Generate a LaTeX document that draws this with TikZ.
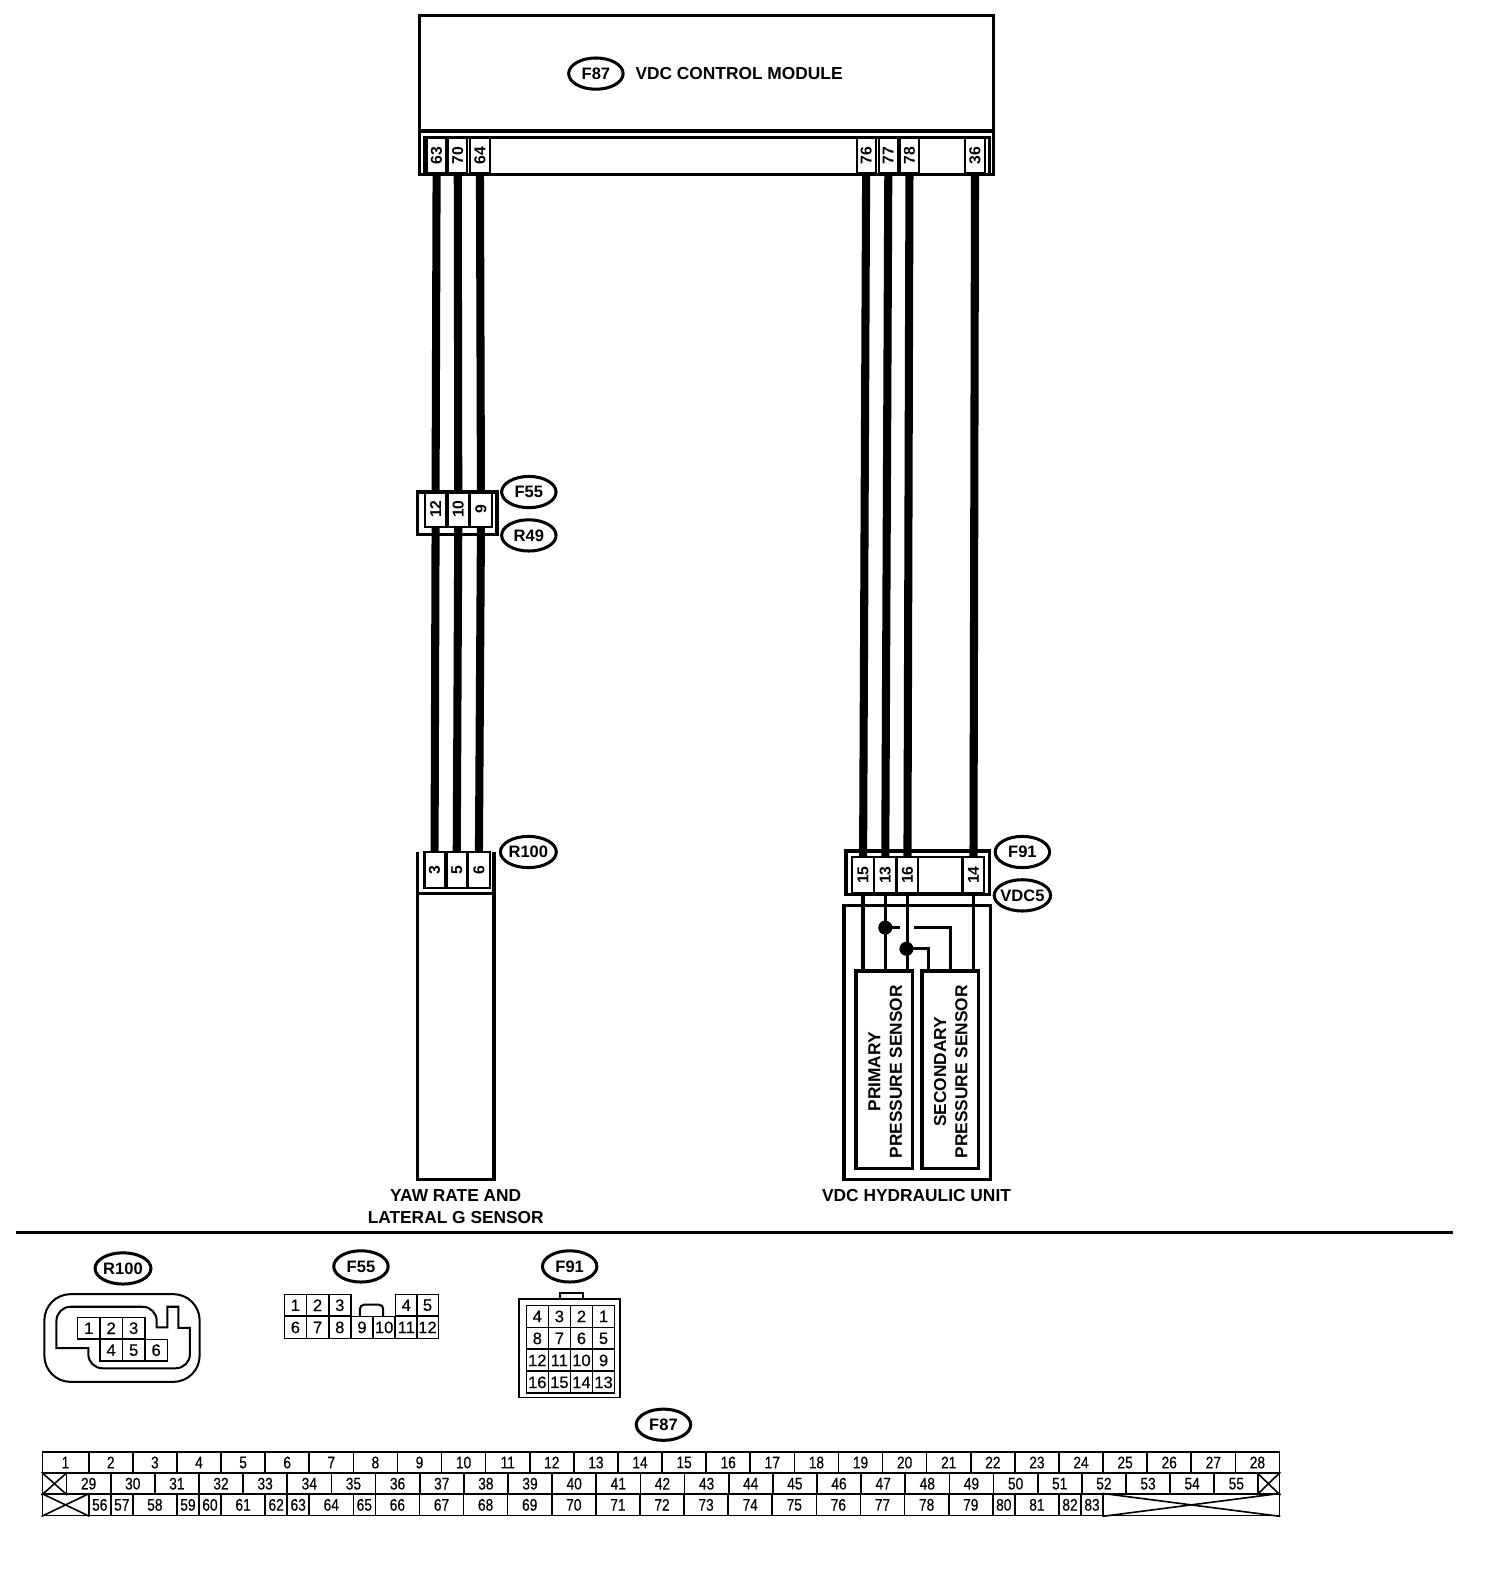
\documentclass[tikz,border=0pt]{standalone}
\usepackage{fontspec}
\usepackage{graphicx}
\setmainfont{Liberation Sans}
\newfontfamily\tblfont[FakeStretch=0.82,FakeBold=0.4]{Liberation Sans}
\newfontfamily\minifont[FakeBold=0.4]{Liberation Sans}
\usetikzlibrary{shapes.geometric,calc}
\newcommand\pinbox[6]{\node[pinbox,minimum width=#4*0.5pt,minimum height=#5*0.5pt] (#1) at (#2,#3) {\rotatebox{90}{#6}};}
\tikzset{
  frame/.style={draw=black,line width=1.6pt,fill=none},
  pinbox/.style={draw=black,line width=1pt,inner sep=0pt,font=\bfseries\fontsize{7.8}{9}\selectfont},
  wire/.style={draw=black,line width=4pt},
  thin wire/.style={draw=black,line width=1.6pt},
  tag/.style={draw=black,ellipse,line width=1.5pt,inner sep=0pt,minimum width=27pt,minimum height=15.5pt,font=\bfseries\fontsize{8.2}{9}\selectfont},
  title/.style={inner sep=0pt,font=\bfseries\fontsize{8.6}{11}\selectfont,align=center},
  senstxt/.style={inner sep=0pt,rotate=90,font=\bfseries\fontsize{8.6}{10.6}\selectfont,align=center},
  sensbox/.style={draw=black,line width=1.6pt,inner sep=0pt},
  dotnode/.style={circle,fill=black,inner sep=0pt,minimum size=7pt},
  cell/.style={draw=black,line width=0.8pt,inner sep=0pt,font=\tblfont\fontsize{8.3}{9}\selectfont},
  minicell/.style={draw=black,line width=0.8pt,inner sep=0pt,minimum width=10.9pt,minimum height=10.8pt,font=\minifont\fontsize{8.2}{9}\selectfont},
  outline/.style={draw=black,line width=1pt},
}
\begin{document}
\begin{tikzpicture}[x=0.5pt,y=-0.5pt]
\useasboundingbox (0,0) rectangle (1492,1569);
% control module
\node[frame,minimum width=284.5pt,minimum height=57.5pt,inner sep=0pt] (module) at (700.5,73) {};
\draw[frame] (416,130) rectangle (985,173);
\draw[frame] (421,136) rectangle (981,173);
\node[tag] (tF87) at (591,73) {F87};
\node[title] (tModule) at (733,73) {VDC CONTROL MODULE};
\pinbox{p63}{433}{154}{19}{35}{63}
\pinbox{p70}{454}{154}{19}{35}{70}
\pinbox{p64}{476}{154}{20}{35}{64}
\pinbox{p76}{859}{154}{19}{35}{76}
\pinbox{p77}{881}{154}{19}{35}{77}
\pinbox{p78}{902}{154}{19}{35}{78}
\pinbox{p36}{967}{154}{20}{35}{36}
% joint connector
\draw[frame] (414,488) rectangle (493,530);
\pinbox{f12}{432}{505}{21}{35}{12}
\pinbox{f10}{454.5}{505}{21}{35}{10}
\pinbox{f9}{477}{505}{21}{35}{9}
\node[tag] (tF55) at (524.5,488) {F55};
\node[tag] (tR49) at (524.5,531) {R49};
% yaw sensor
\draw[frame] (414,845) -- (414,1170) -- (490,1170) -- (490,845);
\draw[frame] (414,886) -- (490,886);
\pinbox{s3}{431}{863}{20}{36}{3}
\pinbox{s5}{453}{863}{20}{36}{5}
\pinbox{s6}{475}{863}{21}{36}{6}
\node[tag] (tR100) at (524,845) {R100};
\node[title] (tYaw) at (452,1196.5) {YAW RATE AND\\LATERAL G SENSOR};
% hydraulic unit
\draw[frame] (839,844) rectangle (981,887);
\pinbox{h15}{856}{868}{22}{36}{15}
\pinbox{h13}{878}{868}{22}{36}{13}
\pinbox{h16}{900}{868}{21}{36}{16}
\node[draw=black,line width=1pt,inner sep=0pt,minimum width=22pt,minimum height=18pt] (hblank) at (932.5,868) {};
\pinbox{h14}{965.5}{868}{21}{36}{14}
\node[tag] (tF91) at (1014,845) {F91};
\node[tag,minimum width=28pt] (tVDC5) at (1014,888) {\makebox[19.5pt]{VDC5}};
\draw[frame] (837,898) rectangle (982,1170);
\node[sensbox,minimum width=28pt,minimum height=98pt] (pri) at (877,1061) {};
\node[sensbox,minimum width=28pt,minimum height=98pt] (sec) at (942.5,1061) {};
\node[senstxt] (tPri) at (878,1063) {PRIMARY\\PRESSURE SENSOR};
\node[senstxt] (tSec) at (943,1063) {SECONDARY\\PRESSURE SENSOR};
\node[title] (tHyd) at (909,1185.5) {VDC HYDRAULIC UNIT};
% wires
\draw[wire] (p63.south) -- (f12.north);
\draw[wire] (p70.south) -- (f10.north);
\draw[wire] (p64.south) -- (f9.north);
\draw[wire] (f12.south) -- (s3.north);
\draw[wire] (f10.south) -- (s5.north);
\draw[wire] (f9.south) -- (s6.north);
\draw[wire] (p76.south) -- (h15.north);
\draw[wire] (p77.south) -- (h13.north);
\draw[wire] (p78.south) -- (h16.north);
\draw[wire] (p36.south) -- (h14.north);
\draw[thin wire] (h15.south) -- (h15.south |- pri.north);
\draw[thin wire] (h13.south) -- (h13.south |- pri.north);
\draw[thin wire] (h16.south) -- (h16.south |- pri.north);
\draw[thin wire] (h14.south) -- (h14.south |- sec.north);
\node[dotnode] (j1) at (878,920) {};
\node[dotnode] (j2) at (899,941) {};
\coordinate (gapa) at (893,920);
\coordinate (gapb) at (906,920);
\coordinate (seca) at (943,963);
\coordinate (secb) at (921,963);
\draw[thin wire] (j1.center) -- (gapa);
\draw[thin wire] (gapb) -| (seca);
\draw[thin wire] (j2.center) -| (secb);
% rule
\node[inner sep=0pt,minimum width=712.5pt,minimum height=1.6pt,fill=black] (rule) at (728.5,1222.5) {};
% R100 connector
\node[tag] (cR100) at (122,1258) {R100};
\node[draw=black,line width=1pt,rounded corners=13pt,minimum width=77pt,minimum height=43.5pt,inner sep=0pt] (r100body) at (121,1327) {};
\draw[outline,rounded corners=7pt] (56,1337) -- (56,1296) -- (155.4,1296) [sharp corners] -- (155.4,1316.5) -- (166,1316.5) -- (166,1296) -- (177,1296) -- (177,1317) -- (188.4,1317) [rounded corners=7pt] -- (188.4,1357) -- (87.6,1357) [sharp corners] -- (87.6,1337) -- cycle;
\foreach \n/\cx in {1/88,2/110.3,3/132.6}
  \node[minicell,minimum width=11.1pt] (rc\n) at (\cx,1317.3) {\n};
\foreach \n/\cx in {4/110.3,5/132.6,6/154.9}
  \node[minicell,minimum width=11.1pt] (rc\n) at (\cx,1339.1) {\n};
% F55 connector
\node[tag] (cF55) at (358,1256) {F55};
\foreach \n/\cx in {1/293,2/315,3/337,4/403,5/424}
  \node[minicell] (fu\n) at (\cx,1294.5) {\n};
\foreach \n/\cx in {6/293,7/315,8/337,9/359,10/381,11/403,12/424}
  \node[minicell] (fu\n) at (\cx,1316.5) {\n};
\draw[outline,rounded corners=2pt] (357,1306) -- (357,1294) -- (380,1294) -- (380,1306);
% F91 connector
\node[tag] (cF91) at (565,1256) {F91};
\node[draw=black,line width=0.9pt,minimum width=50pt,minimum height=49pt,inner sep=0pt] (f91body) at (565,1337) {};
\draw[outline] (555,1288.5) -- (555,1282.5) -- (578,1282.5) -- (578,1288.5);
\foreach \n/\a/\b in {4/1/1,3/2/1,2/3/1,1/4/1,8/1/2,7/2/2,6/3/2,5/4/2,12/1/3,11/2/3,10/3/3,9/4/3,16/1/4,15/2/4,14/3/4,13/4/4}
  \node[minicell] (fh\n) at ({511+\a*21.9},{1283.8+\b*21.8}) {\n};
% F87 table
\node[tag] (cF87) at (658,1413) {F87};
\tikzset{cell/.append style={minimum height=10.6pt}}
\node[cell,minimum width=23pt] (ta1) at (65,1450.5) {1};
\foreach \i in {2,...,28}
  \node[cell,minimum width=21.87pt] (ta\i) at ({88+(\i-1.5)*43.74},1450.5) {\i};
\node[cell,minimum width=12pt] (xa) at (54,1471.5) {};
\draw[cell] (xa.north west) -- (xa.south east) (xa.north east) -- (xa.south west);
\foreach \i in {29,...,55}
  \node[cell,minimum width=21.9pt] (tb\i) at ({66+(\i-28.5)*43.78},1471.5) {\i};
\node[cell,minimum width=11pt] (xb) at (1258,1471.5) {};
\draw[cell] (xb.north west) -- (xb.south east) (xb.north east) -- (xb.south west);
\node[cell,minimum width=23pt] (xc) at (65,1492.5) {};
\draw[cell] (xc.north west) -- (xc.south east) (xc.north east) -- (xc.south west);
\foreach \n/\l/\r in {56/88/109.9,57/109.9/131.7,58/131.7/175.5,59/175.5/197.3,60/197.3/219.2,61/219.2/263,62/263/284.8,63/284.8/306.7,64/306.7/350.4,65/350.4/372.3,66/372.3/416,67/416/459.8,68/459.8/503.5,69/503.5/547.2,70/547.2/591,71/591/634.7,72/634.7/678.4,73/678.4/722.2,74/722.2/765.9,75/765.9/809.6,76/809.6/853.4,77/853.4/897.1,78/897.1/940.9,79/940.9/984.6,80/984.6/1006.5,81/1006.5/1050.3,82/1050.3/1072.1,83/1072.1/1094}
  \node[cell,minimum width={(\r-\l)*0.5pt}] (tc\n) at ({(\l+\r)/2},1492.5) {\n};
\node[cell,minimum width=87.5pt] (xd) at (1181.5,1492.5) {};
\draw[cell] (xd.north west) -- (xd.south east) (xd.north east) -- (xd.south west);
\end{tikzpicture}
\end{document}
